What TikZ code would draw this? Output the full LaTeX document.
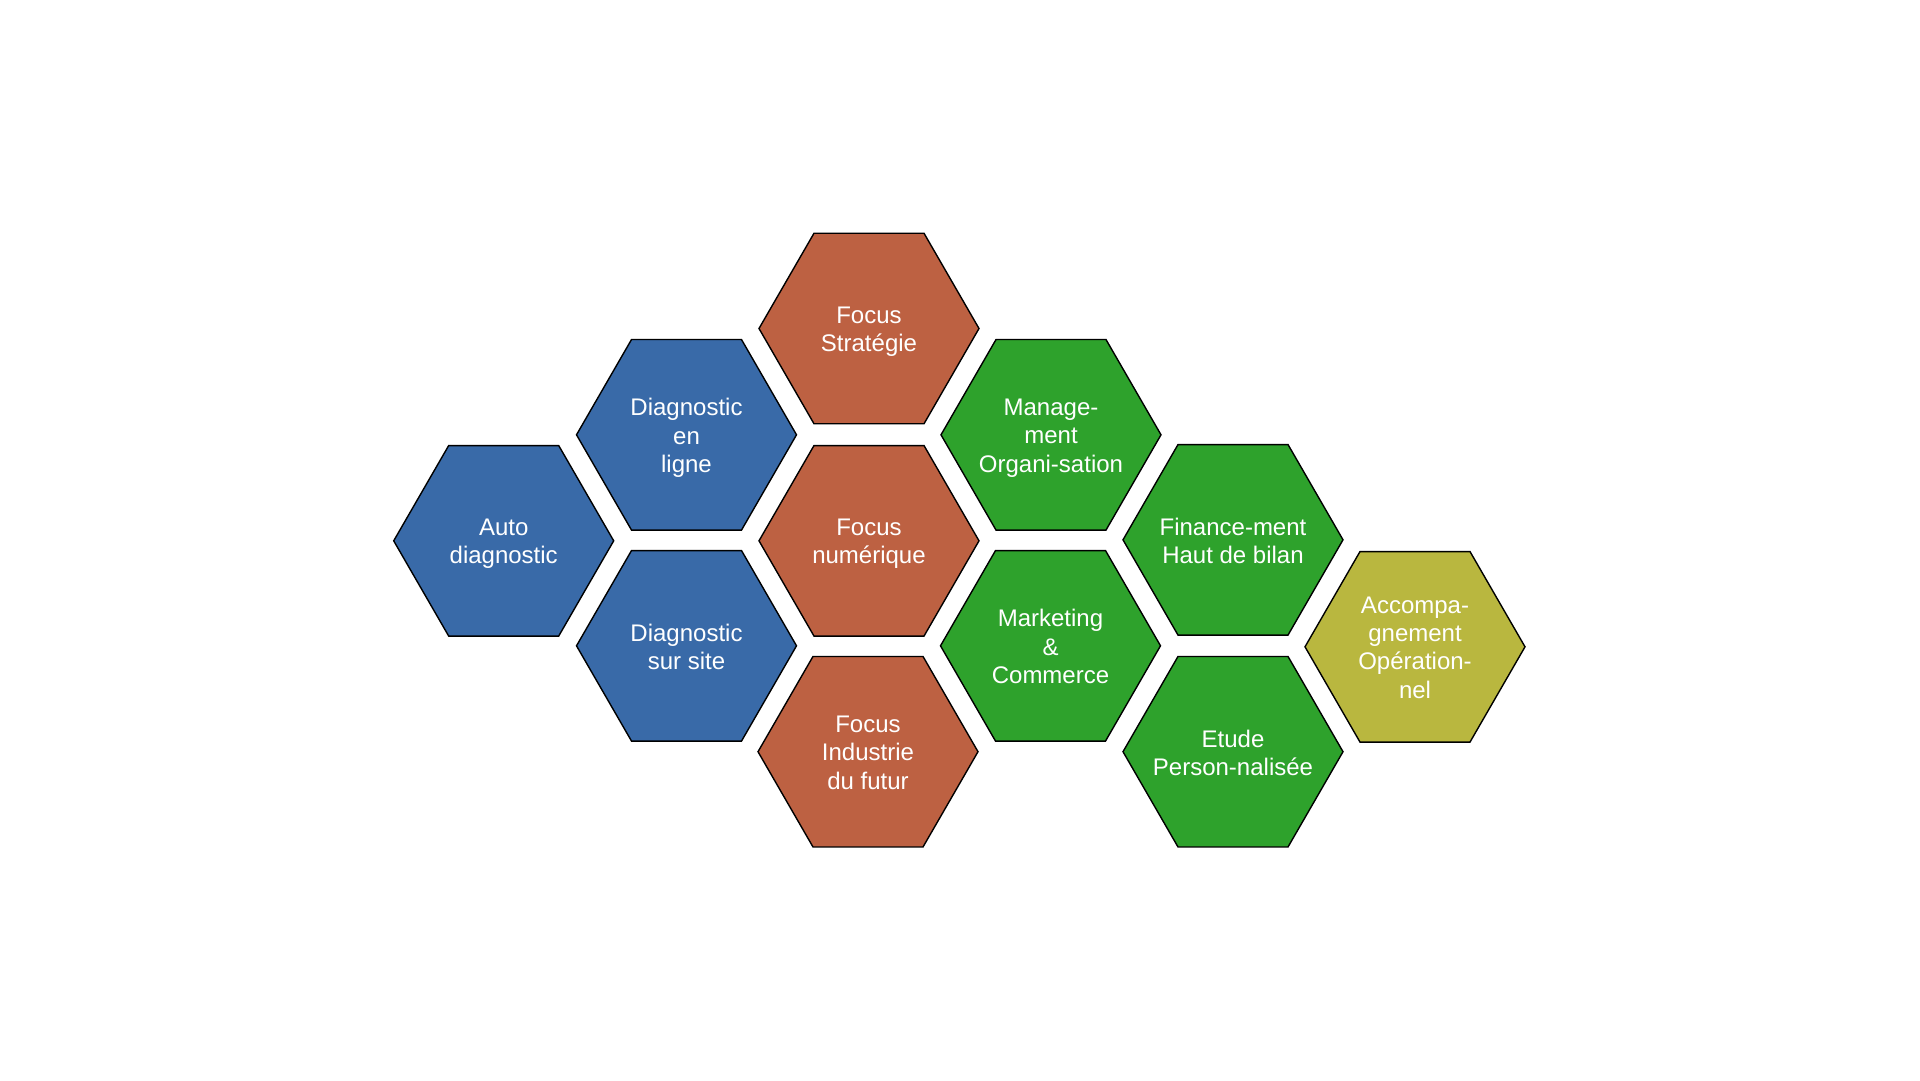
\documentclass[tikz,border=0pt]{standalone}
\usepackage{fontspec}
\setmainfont{Liberation Sans}
\definecolor{hblue}{RGB}{57,106,168}
\definecolor{hbrown}{RGB}{189,97,66}
\definecolor{hgreen}{RGB}{46,162,44}
\definecolor{holive}{RGB}{185,183,63}
\newcommand\hexcell[5]{%
  \draw[hexline, fill=#4, shift={(#2,#3)}]
    (110,0) -- (55,95.26) -- (-55,95.26) -- (-110,0) -- (-55,-95.26) -- (55,-95.26) -- cycle;
  \node[hextext] (#1) at (#2,#3) {#5};}
\begin{document}
\begin{tikzpicture}[x=1pt,y=-1pt,
  hexline/.style={draw=black, line width=1.4pt, line join=miter},
  hextext/.style={inner sep=0pt, text=white, align=center, yshift=-5pt,
    font=\fontsize{24}{28.3}\selectfont,
    execute at begin node=\strut, execute at end node=\strut}]
\useasboundingbox (0,0) rectangle (1920,1080);
\hexcell{auto}{503.7}{540.8}{hblue}{Auto\\diagnostic}
\hexcell{enligne}{686.5}{434.8}{hblue}{Diagnostic\\en\\ligne}
\hexcell{site}{686.5}{645.8}{hblue}{Diagnostic\\sur site}
\hexcell{strat}{869}{328.5}{hbrown}{Focus\\Stratégie}
\hexcell{num}{869}{540.8}{hbrown}{Focus\\numérique}
\hexcell{indus}{868}{751.7}{hbrown}{Focus\\Industrie\\du futur}
\hexcell{mgmt}{1051}{434.8}{hgreen}{Manage-\\ment\\Organi-sation}
\hexcell{mkt}{1050.5}{645.8}{hgreen}{Marketing\\\&\\Commerce}
\hexcell{fin}{1233}{539.8}{hgreen}{Finance-ment\\Haut de bilan}
\hexcell{etude}{1233}{751.7}{hgreen}{Etude\\Person-nalisée}
\hexcell{acc}{1415}{646.8}{holive}{Accompa-\\gnement\\Opération-\\nel}
\end{tikzpicture}
\end{document}
